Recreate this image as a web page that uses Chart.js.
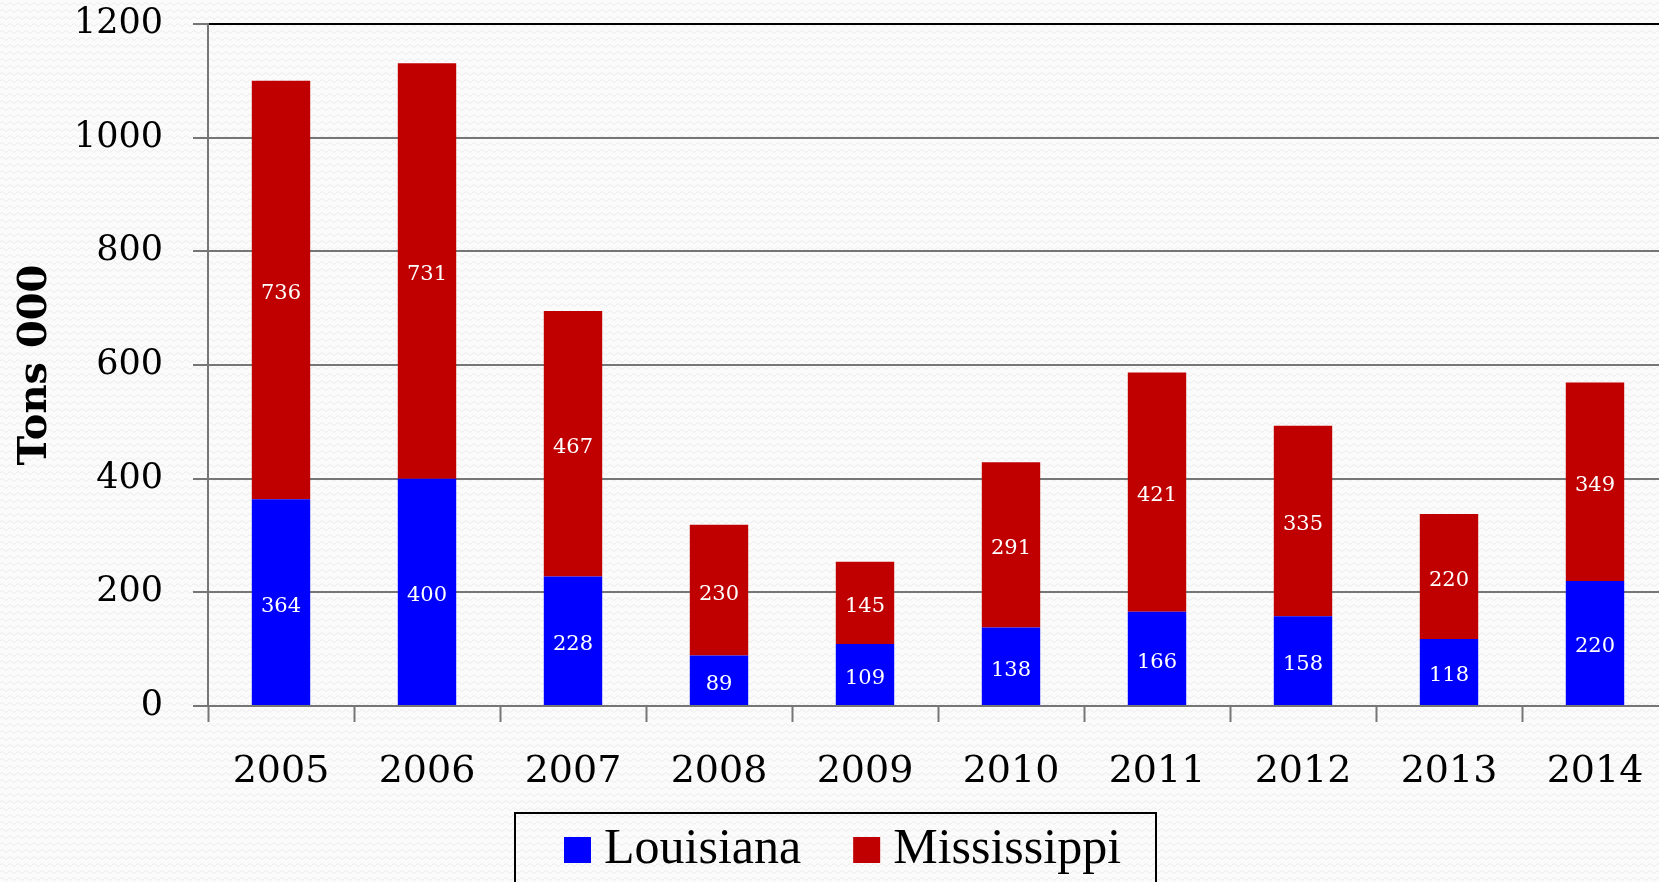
<!DOCTYPE html>
<html>
<head>
<meta charset="utf-8">
<script src="https://cdn.jsdelivr.net/npm/chart.js@4/dist/chart.umd.min.js"></script>
<style>
  html, body {
    margin: 0;
    padding: 0;
    overflow: hidden;
    background-color: #fbfbfb;
    background-image: url("data:image/svg+xml,%3Csvg xmlns='http://www.w3.org/2000/svg' width='8' height='7'%3E%3Cpath d='M0 4 Q2 1 4 4 T8 4' fill='none' stroke='%23ececec' stroke-width='1'/%3E%3C/svg%3E");
  }
  #wrap {
    position: relative;
    width: 1668px;
    height: 882px;
  }
</style>
</head>
<body>
<div id="wrap"><canvas id="tonsChart"></canvas></div>
<script>
// Data produksi per tahun (ribu ton)
const years = ["2005", "2006", "2007", "2008", "2009", "2010", "2011", "2012", "2013", "2014"];
const louisiana = [364, 400, 228, 89, 109, 138, 166, 158, 118, 220];
const mississippi = [736, 731, 467, 230, 145, 291, 421, 335, 220, 349];

const blue = "#0000ff";
const red = "#c00000";
const gridGray = "#767676";

// Label angka putih di tengah tiap segmen batang
const valueLabels = {
  id: "valueLabels",
  afterDatasetsDraw(chart) {
    const ctx = chart.ctx;
    ctx.save();
    ctx.fillStyle = "#ffffff";
    ctx.font = "21px 'DejaVu Serif'";
    ctx.textAlign = "center";
    ctx.textBaseline = "middle";
    chart.data.datasets.forEach((ds, i) => {
      const meta = chart.getDatasetMeta(i);
      meta.data.forEach((bar, j) => {
        const p = bar.getProps(["x", "y", "base"], true);
        ctx.fillText(String(ds.data[j]), p.x, (p.y + p.base) / 2 + 4);
      });
    });
    ctx.restore();
  },
};

// Legenda dengan kotak bingkai di bawah grafik
const boxedLegend = {
  id: "boxedLegend",
  afterDraw(chart) {
    const ctx = chart.ctx;
    ctx.save();
    ctx.strokeStyle = "#000000";
    ctx.lineWidth = 2;
    ctx.strokeRect(515, 813, 641, 100);
    ctx.font = "50px 'Liberation Serif'";
    ctx.textBaseline = "alphabetic";
    ctx.textAlign = "left";
    let x = 564;
    chart.data.datasets.forEach((ds) => {
      ctx.fillStyle = ds.backgroundColor;
      ctx.fillRect(x, 837, 27, 26);
      ctx.fillStyle = "#000000";
      ctx.fillText(ds.label, x + 40, 863);
      x += 40 + ctx.measureText(ds.label).width + 52;
    });
    ctx.restore();
  },
};

function renderChart() {
  const ctx = document.getElementById("tonsChart").getContext("2d");
  new Chart(ctx, {
    type: "bar",
    data: {
      labels: years,
      datasets: [
        {
          label: "Louisiana",
          data: louisiana,
          backgroundColor: blue,
          barPercentage: 0.4,
          categoryPercentage: 1,
        },
        {
          label: "Mississippi",
          data: mississippi,
          backgroundColor: red,
          barPercentage: 0.4,
          categoryPercentage: 1,
        },
      ],
    },
    options: {
      responsive: true,
      maintainAspectRatio: false,
      animation: false,
      layout: {
        padding: { left: 12, top: 24, right: 0, bottom: 86 },
      },
      plugins: {
        legend: { display: false },
        tooltip: { enabled: false },
      },
      scales: {
        x: {
          stacked: true,
          afterFit(scale) {
            scale.height = 90;
            scale.paddingLeft = 0;
            scale.paddingRight = 0;
          },
          grid: {
            offset: true,
            drawOnChartArea: false,
            drawTicks: true,
            tickLength: 16,
            tickColor: gridGray,
            tickWidth: 2,
          },
          border: { color: gridGray, width: 2 },
          ticks: {
            color: "#000000",
            font: { family: "'DejaVu Serif'", size: 38 },
            padding: 27,
            maxRotation: 0,
          },
        },
        y: {
          stacked: true,
          min: 0,
          max: 1200,
          afterFit(scale) {
            scale.width = 196;
            scale.paddingTop = 0;
            scale.paddingBottom = 0;
          },
          ticks: {
            stepSize: 200,
            color: "#000000",
            font: { family: "'DejaVu Serif'", size: 35 },
            padding: 30,
            callback: (v) => String(v),
          },
          grid: {
            color: (c) => (c.tick && c.tick.value === 1200 ? "#000000" : gridGray),
            lineWidth: 2,
            tickLength: 15,
            tickColor: gridGray,
          },
          border: { color: gridGray, width: 2 },
          title: {
            display: true,
            text: "Tons 000",
            color: "#000000",
            font: { family: "'DejaVu Serif'", size: 40, weight: "bold" },
            padding: { top: 0, bottom: 19 },
          },
        },
      },
    },
    plugins: [valueLabels, boxedLegend],
  });
}

document.addEventListener("DOMContentLoaded", () => {
  renderChart();
});
</script>
</body>
</html>
